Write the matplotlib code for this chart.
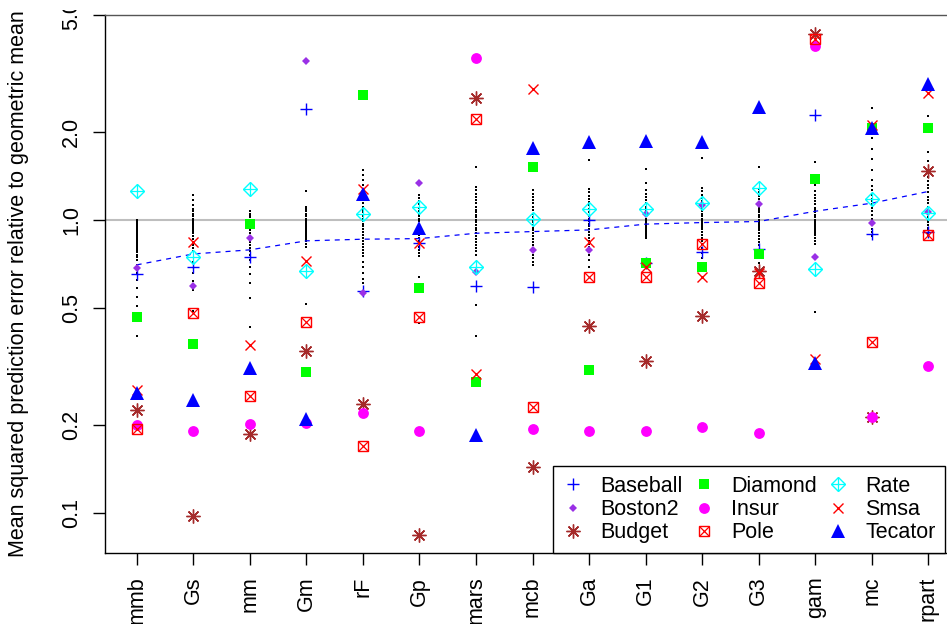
import numpy as np
import matplotlib.pyplot as plt
from matplotlib.legend_handler import HandlerTuple
from matplotlib.transforms import Bbox

plt.rcParams['font.family'] = ['Liberation Sans', 'DejaVu Sans']

methods = ["mmb", "Gs", "mm", "Gm", "rF", "Gp", "mars", "mcb",
           "Ga", "G1", "G2", "G3", "gam", "mc", "rpart"]

baseball = [0.653, 0.690, 0.745, 2.38, 0.573, 0.831, 0.594, 0.591, 1.00, 0.715, 0.776, 0.795, 2.28, 0.894, 0.906]
boston2 = [0.686, 0.594, 0.870, 3.49, 0.562, 1.34, 0.663, 0.791, 0.791, 1.045, 1.12, 1.134, 0.749, 0.979, 1.06]
budget = [0.224, 0.098, 0.186, 0.358, 0.236, 0.084, 2.60, 0.143, 0.434, 0.330, 0.471, 0.668, 4.30, 0.212, 1.466]
diamond = [0.467, 0.376, 0.97, 0.302, 2.67, 0.586, 0.280, 1.51, 0.308, 0.713, 0.690, 0.765, 1.374, 2.05, 2.06]
insur = [0.199, 0.191, 0.201, 0.202, 0.220, 0.191, 3.58, 0.194, 0.191, 0.190, 0.196, 0.187, 3.93, 0.212, 0.317]
pole = [0.193, 0.480, 0.251, 0.449, 0.169, 0.468, 2.21, 0.230, 0.636, 0.639, 0.829, 0.610, 4.13, 0.384, 0.887]
rate = [1.25, 0.749, 1.279, 0.668, 1.045, 1.11, 0.690, 1.006, 1.092, 1.092, 1.138, 1.28, 0.68, 1.176, 1.054]
smsa = [0.262, 0.840, 0.375, 0.725, 1.276, 0.831, 0.297, 2.79, 0.84, 0.69, 0.639, 0.66, 0.335, 2.10, 2.70]
tecator = [0.256, 0.243, 0.313, 0.209, 1.225, 0.937, 0.185, 1.76, 1.845, 1.86, 1.845, 2.42, 0.326, 2.06, 2.90]

# geometric-mean trend across methods
trend = [0.702, 0.765, 0.79, 0.848, 0.859, 0.863, 0.90, 0.912, 0.924, 0.967, 0.979, 0.987, 1.07, 1.14, 1.25]

# individual simulation results per method
runs = [
    [1.00, 0.99, 0.98, 0.97, 0.96, 0.95, 0.94, 0.93, 0.92, 0.91, 0.90, 0.89, 0.88, 0.87, 0.86, 0.85,
     0.84, 0.83, 0.82, 0.81, 0.80, 0.79, 0.775, 0.76, 0.745, 0.73, 0.70, 0.66, 0.625, 0.586, 0.546, 0.508, 0.40],
    [1.22, 1.17, 1.12, 1.09, 1.07, 1.05, 1.03, 1.01, 1.00, 0.99, 0.98, 0.97, 0.96, 0.95, 0.94, 0.93,
     0.92, 0.91, 0.90, 0.88, 0.86, 0.84, 0.82, 0.80, 0.78, 0.72, 0.66, 0.62, 0.60, 0.577, 0.49],
    [1.07, 1.05, 1.04, 1.02, 1.00, 0.99, 0.97, 0.95, 0.94, 0.92, 0.90, 0.88, 0.86, 0.84, 0.82, 0.80,
     0.78, 0.76, 0.73, 0.69, 0.653, 0.61, 0.54, 0.43],
    [1.25, 1.11, 1.09, 1.07, 1.05, 1.03, 1.01, 1.00, 0.99, 0.98, 0.97, 0.96, 0.95, 0.94, 0.93, 0.92,
     0.91, 0.90, 0.89, 0.88, 0.87, 0.86, 0.85, 0.83, 0.81, 0.518],
    [1.48, 1.42, 1.37, 1.32, 1.21, 1.17, 1.14, 1.11, 1.08, 1.06, 1.03, 1.01, 0.99, 0.97, 0.95, 0.93,
     0.91, 0.89, 0.87, 0.85, 0.83, 0.81, 0.79, 0.77, 0.75, 0.72, 0.69, 0.66, 0.63, 0.61],
    [1.22, 1.19, 1.16, 1.13, 1.10, 1.07, 1.05, 1.03, 1.01, 0.99, 0.97, 0.95, 0.93, 0.91, 0.89, 0.87,
     0.85, 0.83, 0.81, 0.79, 0.77, 0.75, 0.64, 0.446],
    [1.51, 1.29, 1.26, 1.23, 1.20, 1.17, 1.14, 1.11, 1.08, 1.06, 1.04, 1.02, 1.00, 0.98, 0.96, 0.94,
     0.92, 0.90, 0.88, 0.86, 0.84, 0.82, 0.80, 0.78, 0.76, 0.514, 0.40],
    [1.265, 1.23, 1.20, 1.17, 1.14, 1.11, 1.08, 1.05, 1.02, 1.00, 0.98, 0.96, 0.94, 0.92, 0.90, 0.88,
     0.86, 0.84, 0.82, 0.80, 0.78, 0.76, 0.74, 0.72, 0.70],
    [1.60, 1.27, 1.24, 1.21, 1.18, 1.15, 1.12, 1.09, 1.06, 1.03, 1.01, 0.99, 0.97, 0.95, 0.93, 0.91,
     0.89, 0.87, 0.85, 0.83, 0.81, 0.79, 0.76, 0.73, 0.69],
    [1.49, 1.34, 1.26, 1.23, 1.20, 1.17, 1.14, 1.11, 1.09, 1.07, 1.05, 1.03, 1.01, 1.00, 0.99, 0.98,
     0.97, 0.96, 0.95, 0.94, 0.93, 0.92, 0.91, 0.90, 0.89, 0.88, 0.87],
    [1.62, 1.28, 1.25, 1.22, 1.19, 1.16, 1.13, 1.10, 1.07, 1.05, 1.03, 1.01, 1.00, 0.99, 0.98, 0.97,
     0.96, 0.95, 0.94, 0.93, 0.91, 0.89, 0.87, 0.85, 0.83, 0.80, 0.77, 0.74, 0.71],
    [1.51, 1.27, 1.24, 1.21, 1.18, 1.15, 1.12, 1.10, 1.08, 1.06, 1.04, 1.02, 1.00, 0.99, 0.98, 0.97,
     0.96, 0.95, 0.94, 0.93, 0.92, 0.90, 0.88, 0.86, 0.84, 0.82, 0.78, 0.74, 0.71],
    [1.58, 1.32, 1.25, 1.22, 1.19, 1.16, 1.13, 1.10, 1.08, 1.06, 1.04, 1.02, 1.00, 0.99, 0.98, 0.97,
     0.96, 0.95, 0.94, 0.93, 0.92, 0.91, 0.90, 0.89, 0.87, 0.85, 0.83, 0.486],
    [2.40, 2.07, 1.90, 1.75, 1.61, 1.48, 1.37, 1.30, 1.26, 1.22, 1.18, 1.16, 1.13, 1.10, 1.07, 1.04,
     1.01, 0.99, 0.96, 0.93, 0.91, 0.88],
    [2.26, 2.06, 2.02, 1.70, 1.59, 1.44, 1.40, 1.36, 1.32, 1.28, 1.24, 1.20, 1.17, 1.14, 1.11, 1.08,
     1.05, 1.02, 1.00, 0.98, 0.96, 0.94, 0.92, 0.90, 0.88],
]

yticks = [0.1, 0.2, 0.5, 1.0, 2.0, 5.0]
ytick_labels = ["0.1", "0.2", "0.5", "1.0", "2.0", "5.0"]

fs = 15.5
fig = plt.figure(figsize=(9.47, 6.24), dpi=100)
ax = fig.add_axes([105 / 947, 71 / 624, 855 / 947, 538 / 624])

x = np.arange(1, len(methods) + 1)

ax.axhline(1.0, color="#BEBEBE", lw=1.5, zorder=1)

for xi, vals in zip(x, runs):
    ax.plot(np.full(len(vals), xi), vals, ls="none", marker="s", ms=1.7, mew=0,
            color="black", zorder=2)

ax.plot(x, trend, color="blue", lw=0.9, dashes=(4, 4), zorder=3)

h_base, = ax.plot(x, baseball, ls="none", marker="+", ms=9, mew=1.0, color="blue", zorder=4)
h_bos, = ax.plot(x, boston2, ls="none", marker="D", ms=3.8, mew=0, color="#9A30E6", zorder=4)
h_bud, = ax.plot(x, budget, ls="none", marker=(8, 2, 0), ms=10, mew=1.0, color="#A52A2A", zorder=4)
h_dia, = ax.plot(x, diamond, ls="none", marker="s", ms=7.4, mew=0, color="#00FF00", zorder=4)
h_ins, = ax.plot(x, insur, ls="none", marker="o", ms=7.8, mew=0, color="#FF00FF", zorder=4)
h_pol1, = ax.plot(x, pole, ls="none", marker="s", ms=7.6, mew=1.0, mfc="none", color="red", zorder=4)
h_pol2, = ax.plot(x, pole, ls="none", marker="x", ms=7.0, mew=0.9, color="red", zorder=4)
h_rat1, = ax.plot(x, rate, ls="none", marker="D", ms=7.0, mew=1.0, mfc="none", color="#00FFFF", zorder=4)
h_rat2, = ax.plot(x, rate, ls="none", marker="+", ms=9.8, mew=0.9, color="#00FFFF", zorder=4)
h_sms, = ax.plot(x, smsa, ls="none", marker="x", ms=7.8, mew=1.0, color="red", zorder=4)
h_tec, = ax.plot(x, tecator, ls="none", marker="^", ms=9.5, mew=0, color="blue", zorder=4)

ax.set_yscale("log")
ax.set_ylim(0.073, 5.0)
ax.set_xlim(0.44, 15.56)
ax.set_yticks(yticks)
ax.set_yticklabels(ytick_labels)
ax.minorticks_off()
ax.set_xticks(x)
ax.set_xticklabels(methods, rotation=90)
ax.tick_params(axis="both", length=8.6, width=1.0, labelsize=fs, direction="out")
ax.tick_params(axis="x", pad=8.5)
ax.tick_params(axis="y", pad=8)
# tick labels are cut off a little below the top edge of the device
label_clip = Bbox.from_extents(0, 0, 947, 614)
for lab in ax.get_yticklabels():
    lab.set_rotation(90)
    lab.set_va("center")
    lab.set_clip_box(label_clip)
    lab.set_clip_on(True)
for sp in ax.spines.values():
    sp.set_linewidth(1.0)
    sp.set_color("black")
ax.spines["top"].set_color("#555555")

fig.text(19 / 947, 1 - 284 / 624, "Mean squared prediction error relative to geometric mean",
         rotation=90, ha="center", va="center", fontsize=fs)

handles = [h_base, h_bos, h_bud, h_dia, h_ins, (h_pol1, h_pol2),
           (h_rat1, h_rat2), h_sms, h_tec]
labels = ["Baseball", "Boston2", "Budget", "Diamond", "Insur", "Pole",
          "Rate", "Smsa", "Tecator"]
leg = ax.legend(handles, labels, ncol=3, loc="lower left", bbox_to_anchor=((553 - 105) / 855, 0),
                borderaxespad=0, fontsize=fs, numpoints=1, handlelength=1.0,
                handletextpad=0.75, columnspacing=0.5, borderpad=0.45, labelspacing=0.1,
                fancybox=False, framealpha=1, edgecolor="black",
                handler_map={tuple: HandlerTuple(ndivide=1)})
leg.get_frame().set_linewidth(1.0)

fig.savefig("out.png", dpi=100)
